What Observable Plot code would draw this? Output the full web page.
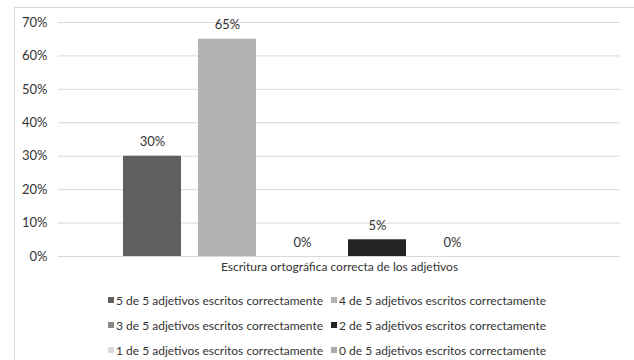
<!DOCTYPE html>
<html>
<head>
<meta charset="utf-8">
<script src="https://cdn.jsdelivr.net/npm/d3@7"></script>
<script src="https://cdn.jsdelivr.net/npm/@observablehq/plot@0.6"></script>
<style>
  body { margin: 0; width: 634px; height: 360px; overflow: hidden; background: #fff; font-family: Lato, "Noto Sans", sans-serif; }
  #frame { position: absolute; left: 14px; top: 7px; width: 700px; height: 420px; border: 1px solid #d9d9d9; box-sizing: border-box; }
  #chart { position: absolute; left: 0; top: 0; }
  #legend { position: absolute; left: 108px; top: 292px; display: grid; grid-template-columns: 223px auto; row-gap: 9px; font-size: 12px; color: #333; }
  #legend .item { display: flex; align-items: center; height: 16px; white-space: nowrap; }
  #legend .sw { width: 6px; height: 6px; margin-right: 2px; flex: none; }
</style>
</head>
<body>
<div id="frame"></div>
<div id="chart"></div>
<div id="legend"></div>
<script>
// Share of students by number of adjectives spelled correctly (out of 5)
const series = [
  "5 de 5 adjetivos escritos correctamente",
  "4 de 5 adjetivos escritos correctamente",
  "3 de 5 adjetivos escritos correctamente",
  "2 de 5 adjetivos escritos correctamente",
  "1 de 5 adjetivos escritos correctamente",
  "0 de 5 adjetivos escritos correctamente"
];
const values = [0.30, 0.65, 0.00, 0.05, 0.00, null];
const colors = ["#606060", "#b3b3b3", "#8a8a8a", "#232323", "#dadada", "#ababab"];
const yTicks = [0, 0.1, 0.2, 0.3, 0.4, 0.5, 0.6, 0.7];
const categoryLabel = "Escritura ortográfica correcta de los adjetivos";

const rows = series.map((s, i) => ({series: s, value: values[i]}));
const shown = rows.filter(d => d.value != null);
const pct = d3.format(".0%");

const chart = Plot.plot({
  width: 634,
  height: 280,
  marginLeft: 58,
  marginRight: 14,
  marginTop: 22,
  marginBottom: 24,
  style: {fontFamily: "Lato, 'Noto Sans', sans-serif", fontSize: "12.5px", color: "#333", background: "transparent"},
  x: {type: "band", domain: series, paddingInner: 0.2267, paddingOuter: 0.86, axis: null},
  y: {domain: [0, 0.7], ticks: yTicks, tickFormat: pct, label: null},
  color: {domain: series, range: colors},
  marks: [
    Plot.gridY(yTicks, {stroke: "#d9d9d9", strokeOpacity: 1, strokeWidth: 1}),
    Plot.axisY(yTicks, {tickSize: 0, tickPadding: 11, tickFormat: pct, label: null, fill: "#333", fontSize: 13}),
    Plot.barY(shown, {x: "series", y: "value", fill: "series"}),
    Plot.text(shown, {x: "series", y: "value", text: d => pct(d.value), dy: -14, fill: "#333", fontSize: 13}),
    Plot.text([categoryLabel], {frameAnchor: "bottom", dy: 14, text: d => d, fill: "#333", fontSize: 12})
  ]
});
document.getElementById("chart").appendChild(chart);

// Two-column legend, row by row in series order
const legend = d3.select("#legend");
series.forEach((s, i) => {
  const item = legend.append("div").attr("class", "item");
  item.append("span").attr("class", "sw").style("background", colors[i]);
  item.append("span").text(s);
});
</script>
</body>
</html>
